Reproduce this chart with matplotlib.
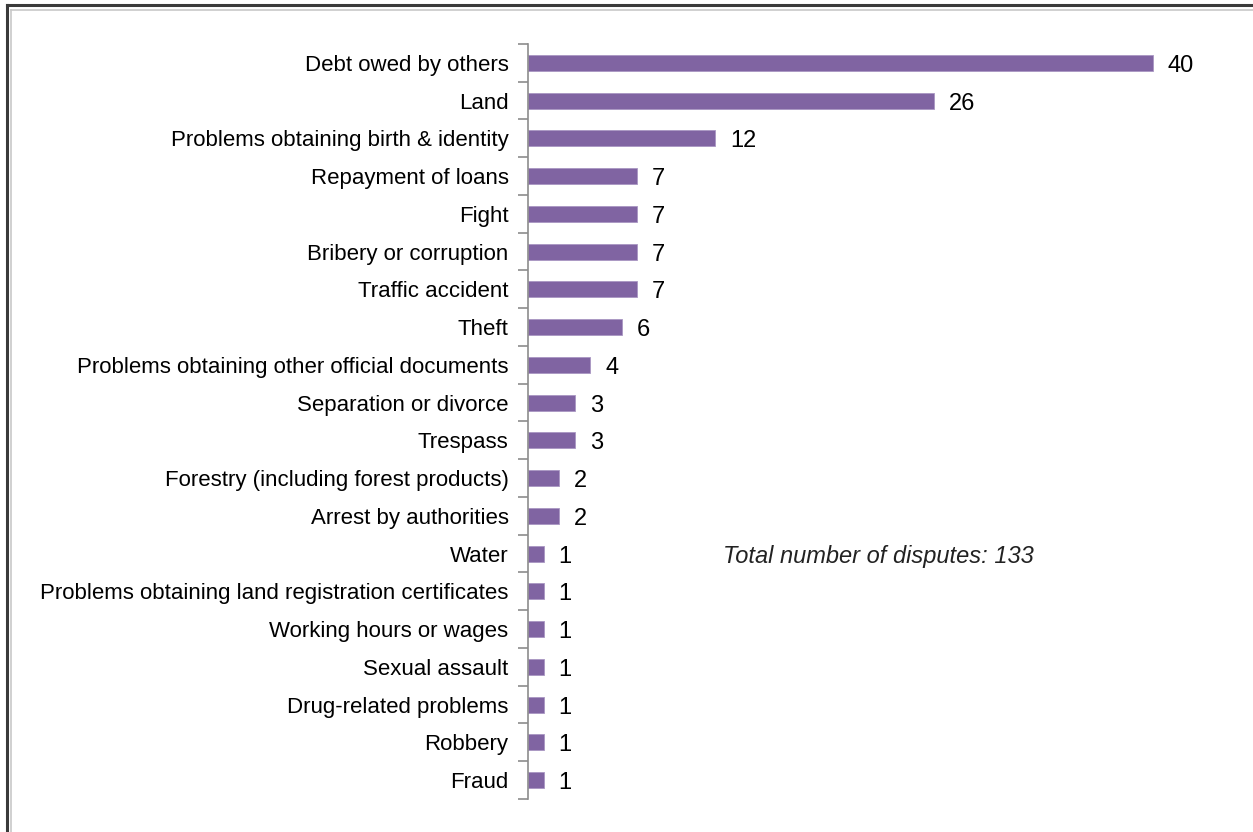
import numpy as np
import matplotlib.pyplot as plt
from matplotlib.lines import Line2D

# disputes by type
categories = [
    "Debt owed by others",
    "Land",
    "Problems obtaining birth & identity",
    "Repayment of loans",
    "Fight",
    "Bribery or corruption",
    "Traffic accident",
    "Theft",
    "Problems obtaining other official documents",
    "Separation or divorce",
    "Trespass",
    "Forestry (including forest products)",
    "Arrest by authorities",
    "Water",
    "Problems obtaining land registration certificates",
    "Working hours or wages",
    "Sexual assault",
    "Drug-related problems",
    "Robbery",
    "Fraud",
]
counts = [40, 26, 12, 7, 7, 7, 7, 6, 4, 3, 3, 2, 2, 1, 1, 1, 1, 1, 1, 1]
total_label = "Total number of disputes: 133"

plt.rcParams['font.family'] = ['Liberation Sans', 'DejaVu Sans']
fs = 16

W, H = 1253, 832
fig = plt.figure(figsize=(W / 100, H / 100), dpi=100)
ax = fig.add_axes([528 / W, 1 - 799 / H, 703 / W, 755 / H])

y = np.arange(len(categories))
ax.barh(y, counts, height=0.42, color="#8064A2", edgecolor="#A996C2", linewidth=0.6)

for yi, v in zip(y, counts):
    ax.text(v + 0.95, yi + 0.08, str(v), va="center", ha="left", fontsize=17, color="black")

ax.set_xlim(0, 45)
ax.set_ylim(len(categories) - 0.5, -0.5)

ax.set_yticks(y)
ax.set_yticklabels(categories, fontsize=fs)
ax.set_yticks(np.arange(-0.5, len(categories)), minor=True)
ax.tick_params(axis="y", which="major", length=0, pad=14)
ax.tick_params(axis="y", which="minor", length=7, color="#8c8c8c", width=1.2)
ax.set_xticks([])

for s in ["top", "right", "bottom"]:
    ax.spines[s].set_visible(False)
ax.spines["left"].set_color("#8c8c8c")
ax.spines["left"].set_linewidth(1.2)

ax.text(723 / W, 1 - 556 / H, total_label, transform=fig.transFigure,
        fontsize=17, style="italic", color="#222222", va="center", ha="left")

# frame lines along the top and left edges
fig.add_artist(Line2D([6.5 / W, 6.5 / W], [0, 1 - 5 / H], color="#3a3a3a", lw=2.2))
fig.add_artist(Line2D([6.5 / W, 1], [1 - 5 / H, 1 - 5 / H], color="#3a3a3a", lw=2.2))
fig.add_artist(Line2D([10.5 / W, 10.5 / W], [0, 1 - 9.5 / H], color="#c8c8c8", lw=1.2))
fig.add_artist(Line2D([10.5 / W, 1], [1 - 9.5 / H, 1 - 9.5 / H], color="#c8c8c8", lw=1.2))

fig.savefig("out.png", dpi=100)
